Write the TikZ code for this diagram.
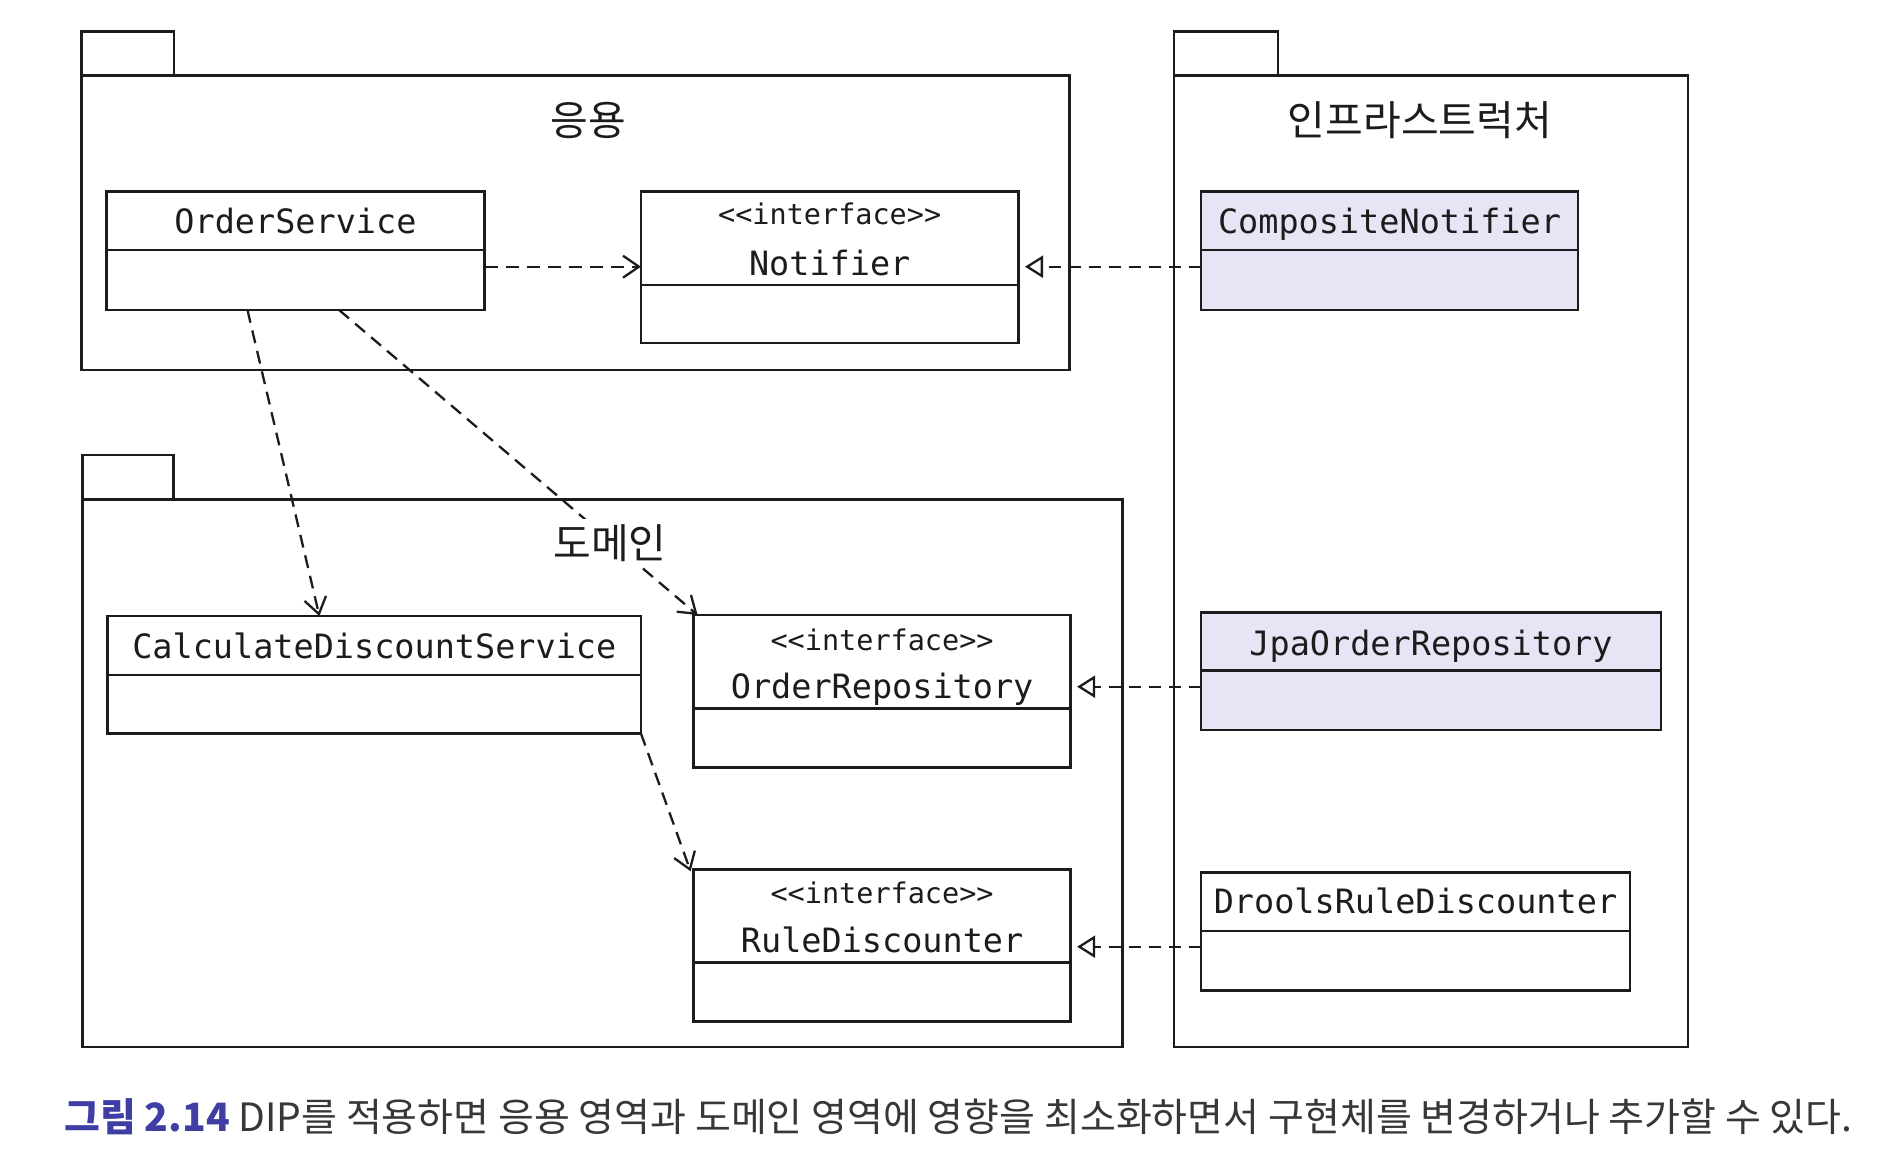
\documentclass[tikz,border=0pt]{standalone}
\usepackage{fontspec}
\usetikzlibrary{arrows.meta,calc}
\newfontfamily\umlmono{DejaVu Sans Mono}
\newfontfamily\krfont{Noto Sans CJK KR}
\definecolor{ink}{RGB}{28,28,28}
\definecolor{lav}{RGB}{229,229,245}
\definecolor{capblue}{RGB}{62,62,165}
\definecolor{capgray}{RGB}{55,55,55}
\tikzset{
  clsbox/.style={draw=ink, line width=2.8pt, rectangle, inner sep=0pt, outer sep=0pt, anchor=north west},
  implbox/.style={clsbox, fill=lav},
  pkgbox/.style={draw=ink, line width=2.8pt, rectangle, inner sep=0pt, outer sep=0pt, anchor=north west},
  divider/.style={draw=ink, line width=2.8pt},
  cname/.style={font=\umlmono\fontsize{33.5pt}{40pt}\selectfont, anchor=base, inner sep=0pt, text=ink},
  stereo/.style={font=\umlmono\fontsize{28.5pt}{34pt}\selectfont, anchor=base, inner sep=0pt, text=ink},
  pkglabel/.style={font=\krfont\fontsize{41pt}{48pt}\selectfont, inner sep=5pt, fill=white, text=ink},
  dep/.style={draw=ink, line width=2.3pt, dash pattern=on 13pt off 8pt,
    -{Straight Barb[length=16pt,width=22pt,line width=2.3pt]}},
  realz/.style={draw=ink, line width=2.3pt, dash pattern=on 12pt off 8pt,
    -{Triangle[open,length=18pt,width=22pt,line width=2.3pt]}, shorten >=6.5pt},
}
\begin{document}
\begin{tikzpicture}[x=1pt,y=-1pt]
\useasboundingbox (0,0) rectangle (1890,1152);

% ---------- packages ----------
\node[pkgbox, minimum width=92.6pt, minimum height=44pt] (apptab) at (81.4,31.7) {};
\node[pkgbox, minimum width=988.3pt, minimum height=294.3pt] (app) at (81.4,75.7) {};
\node[pkgbox, minimum width=104pt, minimum height=44pt] (inftab) at (1174,31.7) {};
\node[pkgbox, minimum width=514pt, minimum height=971.3pt] (inf) at (1174,75.7) {};
\node[pkgbox, minimum width=91.2pt, minimum height=44.3pt] (domtab) at (82.4,455) {};
\node[pkgbox, minimum width=1040.4pt, minimum height=547.7pt] (dom) at (82.4,499.3) {};

\node[pkglabel] (applbl) at (588,120) {응용};
\node[pkglabel] (inflbl) at (1420,120) {인프라스트럭처};

% ---------- classes ----------
% OrderService
\node[clsbox, minimum width=378.5pt, minimum height=118.3pt] (os) at (106.3,191.7) {};
\draw[divider] ($(os.north west)+(0,58.3)$) -- ($(os.north east)+(0,58.3)$);
\node[cname] (osn) at (295.5,233) {OrderService};

% Notifier
\node[clsbox, minimum width=377.5pt, minimum height=151.3pt] (nt) at (641,191.7) {};
\draw[divider] ($(nt.north west)+(0,93.3)$) -- ($(nt.north east)+(0,93.3)$);
\node[stereo] (nts) at (829.7,224) {<<interface>>};
\node[cname] (ntn) at (829.7,275) {Notifier};

% CompositeNotifier
\node[implbox, minimum width=377pt, minimum height=118.3pt] (cn) at (1201,191.7) {};
\draw[divider] ($(cn.north west)+(0,58.3)$) -- ($(cn.north east)+(0,58.3)$);
\node[cname] (cnn) at (1389.5,233) {CompositeNotifier};

% CalculateDiscountService
\node[clsbox, minimum width=533.2pt, minimum height=117.3pt] (cds) at (107.7,616) {};
\draw[divider] ($(cds.north west)+(0,59)$) -- ($(cds.north east)+(0,59)$);
\node[cname] (cdsn) at (374.3,658) {CalculateDiscountService};

% OrderRepository
\node[clsbox, minimum width=377pt, minimum height=152.7pt] (orp) at (693.6,615) {};
\draw[divider] ($(orp.north west)+(0,93.3)$) -- ($(orp.north east)+(0,93.3)$);
\node[stereo] (orps) at (882.1,650) {<<interface>>};
\node[cname] (orpn) at (882.1,698) {OrderRepository};

% RuleDiscounter
\node[clsbox, minimum width=377pt, minimum height=152.4pt] (rd) at (693.6,869.3) {};
\draw[divider] ($(rd.north west)+(0,93.4)$) -- ($(rd.north east)+(0,93.4)$);
\node[stereo] (rds) at (882.1,903) {<<interface>>};
\node[cname] (rdn) at (882.1,952) {RuleDiscounter};

% JpaOrderRepository
\node[implbox, minimum width=460pt, minimum height=117.7pt] (jpa) at (1201,612.3) {};
\draw[divider] ($(jpa.north west)+(0,58.4)$) -- ($(jpa.north east)+(0,58.4)$);
\node[cname] (jpan) at (1431,655) {JpaOrderRepository};

% DroolsRuleDiscounter
\node[clsbox, minimum width=429pt, minimum height=118.4pt] (dr) at (1201,872.3) {};
\draw[divider] ($(dr.north west)+(0,58.7)$) -- ($(dr.north east)+(0,58.7)$);
\node[cname] (drn) at (1415.5,913) {DroolsRuleDiscounter};

% ---------- connectors ----------
\coordinate (ya) at (0,266.7);
\coordinate (yb) at (0,686.7);
\coordinate (yc) at (0,946.7);

\draw[dep] (os.east |- ya) -- (nt.west |- ya);
\draw[realz] (cn.west |- ya) -- (nt.east |- ya);
\draw[dep] ($(os.south west)!0.373!(os.south east)$) -- ($(cds.north west)!0.397!(cds.north east)$);
\draw[dep] ($(os.south west)!0.615!(os.south east)$) -- ($(orp.north west)+(4,0)$);
\draw[dep] (cds.south east) -- ($(rd.north west)+(-3,2)$);
\draw[realz] (jpa.west |- yb) -- (orp.east |- yb);
\draw[realz] (dr.west |- yc) -- (rd.east |- yc);

% domain label drawn over the dependency line
\node[pkglabel] (domlbl) at (610,543) {도메인};

% ---------- caption ----------
\node[anchor=base west, inner sep=0pt, font=\krfont\fontsize{39pt}{46pt}\selectfont, text=capgray] (cap) at (64,1131)
  {{\color{capblue}\bfseries 그림 2.14} DIP를 적용하면 응용 영역과 도메인 영역에 영향을 최소화하면서 구현체를 변경하거나 추가할 수 있다.};
\end{tikzpicture}
\end{document}
